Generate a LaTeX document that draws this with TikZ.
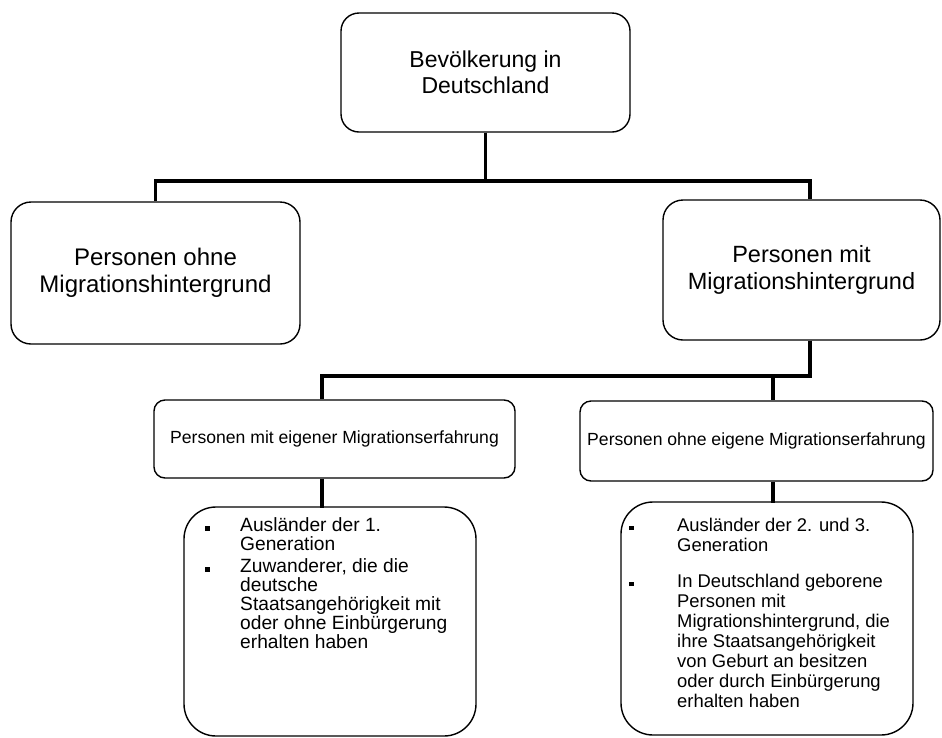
\documentclass[tikz,border=0pt]{standalone}
\usepackage{fontspec}
\setmainfont{Liberation Sans}
\newcommand{\sqbul}{\rule[1pt]{4.5pt}{4.5pt}}

\begin{document}
\begin{tikzpicture}[x=1pt,y=-1pt,
  box/.style={draw,line width=1.4pt,rounded corners=#1,align=center,inner sep=0pt},
  box/.default=18pt,
  conn/.style={line width=3.8pt}]
\useasboundingbox (0,0) rectangle (942,737);

\node[box,minimum width=289pt,minimum height=119pt,font=\fontsize{23}{26}\selectfont]
  (ges) at (485.5,72.5) {Bevölkerung in\\Deutschland};
\node[box=20pt,minimum width=289pt,minimum height=142pt,font=\fontsize{24}{27}\selectfont]
  (ohne) at (155.5,273) {Personen ohne\\Migrationshintergrund};
\node[box=20pt,minimum width=277pt,minimum height=140pt,font=\fontsize{23.5}{27}\selectfont]
  (mitmh) at (801.5,270) {Personen mit\\Migrationshintergrund};

\node[box=11pt,minimum width=361pt,minimum height=78pt,font=\fontsize{17.6}{20}\selectfont]
  (eigen) at (334.5,439) {Personen mit eigener Migrationserfahrung};
\node[box=11pt,minimum width=353pt,minimum height=80pt,font=\fontsize{17.6}{20}\selectfont]
  (keine) at (756.5,441) {Personen ohne eigene Migrationserfahrung};

\node[box=32pt,minimum width=292pt,minimum height=229pt] (liste1) at (330,621.5) {};
\node[box=32pt,minimum width=292pt,minimum height=233pt] (liste2) at (767,618.5) {};

\node[anchor=base west,inner sep=0pt,font=\fontsize{19.2}{16.5}\selectfont]
  (text1) at (205,531.6) {\begin{tabular}[t]{@{}p{35pt}@{}l@{}}
  \sqbul & Ausländer der 1.\\
         & Generation\\[3.5pt]
  \sqbul & Zuwanderer, die die\\
         & deutsche\\
         & Staatsangehörigkeit mit\\
         & oder ohne Einbürgerung\\
         & erhalten haben
  \end{tabular}};
\node[anchor=base west,inner sep=0pt,font=\fontsize{18.4}{20}\selectfont]
  (text2) at (629,531) {\begin{tabular}[t]{@{}p{48pt}@{}l@{}}
  \sqbul & Ausländer der 2. und 3.\\
         & Generation\\[16pt]
  \sqbul & In Deutschland geborene\\
         & Personen mit\\
         & Migrationshintergrund, die\\
         & ihre Staatsangehörigkeit\\
         & von Geburt an besitzen\\
         & oder durch Einbürgerung\\
         & erhalten haben
  \end{tabular}};

\draw[conn] (ges.south) -- ++(0,48) -| (ohne.north);
\draw[conn] (ges.south) -- ++(0,48) -| ([xshift=8.5pt]mitmh.north);
\draw[conn] ([xshift=8.5pt]mitmh.south) -- ++(0,35) -| ([xshift=-12.5pt]eigen.north);
\draw[conn] ([xshift=8.5pt]mitmh.south) -- ++(0,35) -| ([xshift=16.5pt]keine.north);
\draw[conn] ([xshift=-12.5pt]eigen.south) -- ++(0,29);
\draw[conn] ([xshift=16.5pt]keine.south) -- ++(0,21);
\end{tikzpicture}
\end{document}
